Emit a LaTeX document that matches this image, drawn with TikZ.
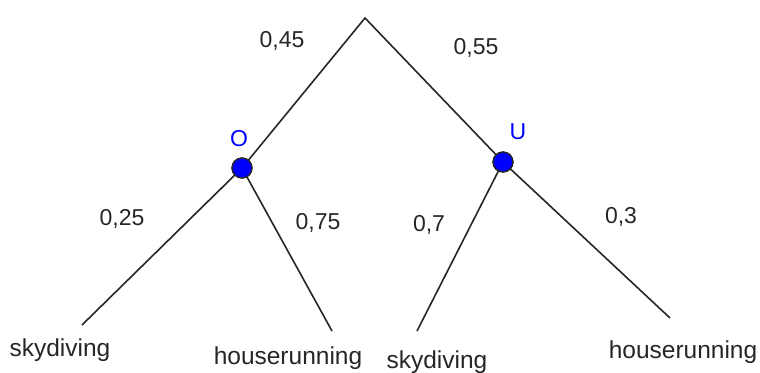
\documentclass[tikz,border=0pt]{standalone}
\usepackage{fontspec}
\setmainfont{Liberation Sans}
\begin{document}
\begin{tikzpicture}[x=1pt,y=-1pt,
  edge/.style={line width=1.6pt, draw=black!85},
  prob/.style={inner sep=0pt, font=\fontsize{23}{26}\selectfont, text=black!85},
  leaf/.style={inner sep=0pt, font=\fontsize{24.5}{27}\selectfont, text=black!85},
  vlabel/.style={inner sep=0pt, font=\fontsize{23}{26}\selectfont, text=blue},
  dot/.style={circle, fill=blue, draw=black!85, line width=1.2pt, minimum size=20pt, inner sep=0pt}]
\useasboundingbox (0,0) rectangle (760,372);
\coordinate (top) at (365,18);
\node[dot] (O) at (242,168) {};
\node[dot] (U) at (503,162) {};
\coordinate (l1) at (82,325);
\coordinate (l2) at (332,331);
\coordinate (l3) at (417,331);
\coordinate (l4) at (670,318);
\draw[edge] (O.center) -- (top) -- (U.center);
\draw[edge] (l1) -- (O.center) -- (l2);
\draw[edge] (l3) -- (U.center) -- (l4);
\node[dot] at (O) {};
\node[dot] at (U) {};
\node[prob] (p1) at (282,41) {0,45};
\node[prob] (p2) at (476,48) {0,55};
\node[vlabel] (lo) at (239,139) {O};
\node[vlabel] (lu) at (518,132) {U};
\node[prob] (p3) at (122,219) {0,25};
\node[prob] (p4) at (318,223) {0,75};
\node[prob] (p5) at (429,225) {0,7};
\node[prob] (p6) at (621,217) {0,3};
\node[leaf] (t1) at (60,350) {skydiving};
\node[leaf] (t2) at (288,358) {houserunning};
\node[leaf] (t3) at (437,362) {skydiving};
\node[leaf] (t4) at (683,352) {houserunning};
\end{tikzpicture}
\end{document}
